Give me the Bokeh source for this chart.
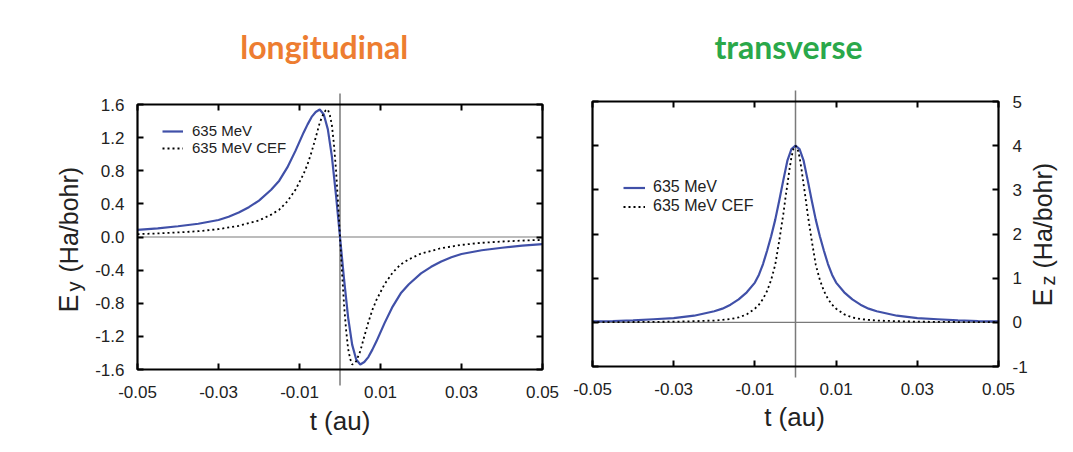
import math
from bokeh.plotting import figure
from bokeh.layouts import row
from bokeh.models import (Range1d, FixedTicker, LinearAxis, Label, Legend, LegendItem,
                          NumeralTickFormatter, CustomJSTickFormatter, BoxAnnotation)
from bokeh.embed import file_html
from bokeh.resources import INLINE

# ---------------- data ----------------
# longitudinal, 635 MeV
t_long = [-0.05, -0.045, -0.04, -0.035, -0.03, -0.0275, -0.025, -0.0225, -0.02, -0.017,
          -0.015, -0.013, -0.011, -0.009, -0.008, -0.007, -0.006, -0.005, -0.004, -0.003,
          -0.002, -0.001, 0.0, 0.001, 0.002, 0.003, 0.004, 0.005, 0.006, 0.007,
          0.008, 0.009, 0.011, 0.013, 0.015, 0.017, 0.02, 0.0225, 0.025, 0.0275,
          0.03, 0.035, 0.04, 0.045, 0.05]
ey_635 = [0.085, 0.105, 0.13, 0.16, 0.205, 0.245, 0.295, 0.36, 0.44, 0.57,
          0.68, 0.84, 1.04, 1.26, 1.36, 1.45, 1.51, 1.54, 1.48, 1.30,
          0.97, 0.51, 0.0, -0.51, -0.97, -1.30, -1.48, -1.54, -1.51, -1.45,
          -1.36, -1.26, -1.04, -0.84, -0.68, -0.57, -0.44, -0.36, -0.295, -0.245,
          -0.205, -0.16, -0.13, -0.105, -0.085]

# longitudinal, 635 MeV CEF
t_long_cef = [-0.05, -0.045, -0.04, -0.035, -0.03, -0.025, -0.02, -0.017, -0.015, -0.013,
              -0.011, -0.009, -0.008, -0.007, -0.006, -0.005, -0.004, -0.0035, -0.003, -0.0025,
              -0.002, -0.0015, -0.001, -0.0005, 0.0, 0.0005, 0.001, 0.0015, 0.002, 0.0025,
              0.003, 0.0035, 0.004, 0.005, 0.006, 0.007, 0.008, 0.009, 0.011, 0.013,
              0.015, 0.017, 0.02, 0.025, 0.03, 0.035, 0.04, 0.045, 0.05]
ey_cef = [0.035, 0.043, 0.055, 0.07, 0.095, 0.135, 0.20, 0.27, 0.33, 0.43,
          0.57, 0.76, 0.88, 1.03, 1.20, 1.38, 1.50, 1.53, 1.54, 1.47,
          1.35, 1.12, 0.82, 0.43, 0.0, -0.43, -0.82, -1.12, -1.35, -1.47,
          -1.54, -1.53, -1.50, -1.38, -1.20, -1.03, -0.88, -0.76, -0.57, -0.43,
          -0.33, -0.27, -0.20, -0.135, -0.095, -0.07, -0.055, -0.043, -0.035]

# transverse, 635 MeV
t_tr = [-0.05, -0.045, -0.04, -0.035, -0.03, -0.025, -0.02, -0.018, -0.016, -0.014,
        -0.012, -0.01, -0.009, -0.008, -0.007, -0.006, -0.005, -0.004, -0.003, -0.002,
        -0.001, 0.0, 0.001, 0.002, 0.003, 0.004, 0.005, 0.006, 0.007, 0.008,
        0.009, 0.01, 0.012, 0.014, 0.016, 0.018, 0.02, 0.025, 0.03, 0.035,
        0.04, 0.045, 0.05]
ez_635 = [0.02, 0.03, 0.045, 0.07, 0.095, 0.15, 0.25, 0.31, 0.40, 0.52,
          0.68, 0.90, 1.08, 1.32, 1.62, 1.95, 2.32, 2.76, 3.22, 3.66,
          3.92, 4.0, 3.92, 3.66, 3.22, 2.76, 2.32, 1.95, 1.62, 1.32,
          1.08, 0.90, 0.68, 0.52, 0.40, 0.31, 0.25, 0.15, 0.095, 0.07,
          0.045, 0.03, 0.02]

# transverse, 635 MeV CEF
t_tr_cef = [-0.05, -0.04, -0.03, -0.025, -0.02, -0.018, -0.016, -0.014, -0.012, -0.01,
            -0.009, -0.008, -0.007, -0.006, -0.005, -0.004, -0.003, -0.0025, -0.002, -0.0015,
            -0.001, -0.0005, 0.0, 0.0005, 0.001, 0.0015, 0.002, 0.0025, 0.003, 0.004,
            0.005, 0.006, 0.007, 0.008, 0.009, 0.01, 0.012, 0.014, 0.016, 0.018,
            0.02, 0.025, 0.03, 0.04, 0.05]
ez_cef = [0.004, 0.007, 0.015, 0.026, 0.04, 0.055, 0.075, 0.11, 0.18, 0.31,
          0.40, 0.53, 0.71, 0.96, 1.30, 1.85, 2.45, 2.80, 3.12, 3.45,
          3.74, 3.93, 4.0, 3.93, 3.74, 3.45, 3.12, 2.80, 2.45, 1.85,
          1.30, 0.96, 0.71, 0.53, 0.40, 0.31, 0.18, 0.11, 0.075, 0.055,
          0.04, 0.026, 0.015, 0.007, 0.004]

x_ticks = [-0.05, -0.03, -0.01, 0.01, 0.03, 0.05]
y_ticks_long = [-1.6, -1.2, -0.8, -0.4, 0.0, 0.4, 0.8, 1.2, 1.6]
y_ticks_tr = [-1, 0, 1, 2, 3, 4, 5]
series_names = ["635 MeV", "635 MeV CEF"]
titles = ["longitudinal", "transverse"]

# ---------------- styles / layout ----------------
FONT = "Liberation Sans"
BLUE = "#4050A8"
ZERO = "#7a7a7a"
TXT = "#222222"
H = 452


class Panel:
    """A figure whose frame is the whole canvas; the plot box is placed by pixel geometry."""

    def __init__(self, cx0, width, box_px, xlim, ylim):
        bx0, bx1, by0, by1 = box_px          # page pixels of the plot box
        x0, x1 = xlim
        y0, y1 = ylim
        kx = (bx1 - bx0) / (x1 - x0)
        ky = (by1 - by0) / (y1 - y0)
        xr = Range1d(x0 - (bx0 - cx0) / kx, x1 + (cx0 + width - bx1) / kx)
        yr = Range1d(y0 - (H - by1) / ky, y1 + by0 / ky)
        self.cx0, self.ky, self.by1 = cx0, ky, by1
        self.xlim, self.ylim = xlim, ylim
        p = figure(width=width, height=H, x_range=xr, y_range=yr,
                   output_backend="svg", toolbar_location=None,
                   x_axis_location=None, y_axis_location=None, min_border=0)
        p.title.visible = False
        p.grid.visible = False
        p.outline_line_color = None
        p.background_fill_color = "white"
        p.border_fill_color = "white"
        self.p = p

    def sx(self, X):
        return X - self.cx0

    def sy(self, Y):
        return H - Y

    def yval(self, Y):
        return self.ylim[0] + (self.by1 - Y) / self.ky

    def axis(self, side, loc, ticks, fmt, standoff):
        ax = LinearAxis(fixed_location=loc)
        ax.ticker = FixedTicker(ticks=ticks)
        ax.formatter = fmt if fmt is not None else CustomJSTickFormatter(code="return ''")
        ax.axis_line_color = None
        ax.major_tick_in = 6
        ax.major_tick_out = 0
        ax.major_tick_line_color = "black"
        ax.major_tick_line_width = 2
        ax.minor_tick_line_color = None
        ax.major_label_text_font = FONT
        ax.major_label_text_font_size = "17px"
        ax.major_label_text_color = TXT
        ax.major_label_standoff = standoff
        self.p.add_layout(ax, side)

    def box(self):
        self.p.add_layout(BoxAnnotation(left=self.xlim[0], right=self.xlim[1],
                                        bottom=self.ylim[0], top=self.ylim[1],
                                        fill_alpha=0, line_color="black", line_alpha=1.0,
                                        line_width=2.2))

    def zero_lines(self, Ytop, Ybot):
        self.p.segment(x0=[x_ticks[0]], x1=[x_ticks[-1]], y0=[0], y1=[0],
                       line_color=ZERO, line_width=1.2)
        self.p.segment(x0=[0], x1=[0], y0=[self.yval(Ybot)], y1=[self.yval(Ytop)],
                       line_color=ZERO, line_width=1.5)

    def label(self, X, Y, text, size, **kw):
        opts = dict(x_units="screen", y_units="screen", text_font=FONT,
                    text_color=TXT, text_baseline="alphabetic", text_align="left")
        opts.update(kw)
        self.p.add_layout(Label(x=self.sx(X), y=self.sy(Y), text=text,
                                text_font_size=f"{size}px", **opts))

    def ylabel(self, Xb, Ystart, sub, Ysub, Ypar):
        a = math.pi / 2
        self.label(Xb, Ystart, "E", 27, angle=a)
        self.label(Xb + 5, Ysub, sub, 20, angle=a)
        self.label(Xb, Ypar, "(Ha/bohr)", 25, angle=a)

    def legend(self, r1, r2, X, Ytop, row_h, fs, gw, standoff):
        leg = Legend(items=[LegendItem(label=series_names[0], renderers=[r1]),
                            LegendItem(label=series_names[1], renderers=[r2])],
                     location=(self.sx(X), self.sy(Ytop + 2 * row_h)), orientation="vertical",
                     background_fill_alpha=0, border_line_color=None,
                     glyph_width=gw, glyph_height=row_h, label_height=row_h,
                     label_standoff=standoff, spacing=0, padding=0, margin=0,
                     label_text_font=FONT, label_text_font_size=fs, label_text_color=TXT)
        self.p.add_layout(leg)


# ---------------- left: longitudinal ----------------
L = Panel(0, 568, (137, 542, 104, 369), (-0.05, 0.05), (-1.6, 1.6))
L.axis("below", -1.6, x_ticks, NumeralTickFormatter(format="0.00"), 16)
L.axis("above", 1.6, x_ticks, None, 0)
L.axis("left", -0.05, y_ticks_long, NumeralTickFormatter(format="0.0"), 13)
L.axis("right", 0.05, y_ticks_long, None, 0)
L.zero_lines(93, 385)
r1a = L.p.line(t_long, ey_635, line_color=BLUE, line_width=2.2)
r1b = L.p.line(t_long_cef, ey_cef, line_color="black", line_width=1.8, line_dash="2 3")
L.box()
L.legend(r1a, r1b, 162, 124, 16, "15px", 21, 9)
L.label(323.7, 46, titles[0], 32, text_align="center", text_font="Lato",
        text_font_style="bold", text_color="#ED7D31")
L.label(339.5, 420, "t (au)", 26, text_align="center")
L.ylabel(68, 312, "y", 291, 272)

# ---------------- right: transverse ----------------
R = Panel(568, 505, (592, 998, 101, 366), (-0.05, 0.05), (-1, 5))
R.axis("below", -1, x_ticks, NumeralTickFormatter(format="0.00"), 16)
R.axis("above", 5, x_ticks, None, 0)
R.axis("left", -0.05, y_ticks_tr, None, 0)
R.axis("right", 0.05, y_ticks_tr, NumeralTickFormatter(format="0"), 14)
R.zero_lines(90, 377)
r2a = R.p.line(t_tr, ez_635, line_color=BLUE, line_width=2.2)
r2b = R.p.line(t_tr_cef, ez_cef, line_color="black", line_width=1.8, line_dash="2 3")
R.box()
R.legend(r2a, r2b, 623, 177.5, 19, "16px", 22, 8)
R.label(788, 46, titles[1], 32, text_align="center", text_font="Lato",
        text_font_style="bold", text_color="#2AA84A")
R.label(794, 416, "t (au)", 26, text_align="center")
R.ylabel(1042, 306, "z", 285, 268)

layout = row(L.p, R.p)
open("out.html", "w").write(file_html(layout, INLINE))
